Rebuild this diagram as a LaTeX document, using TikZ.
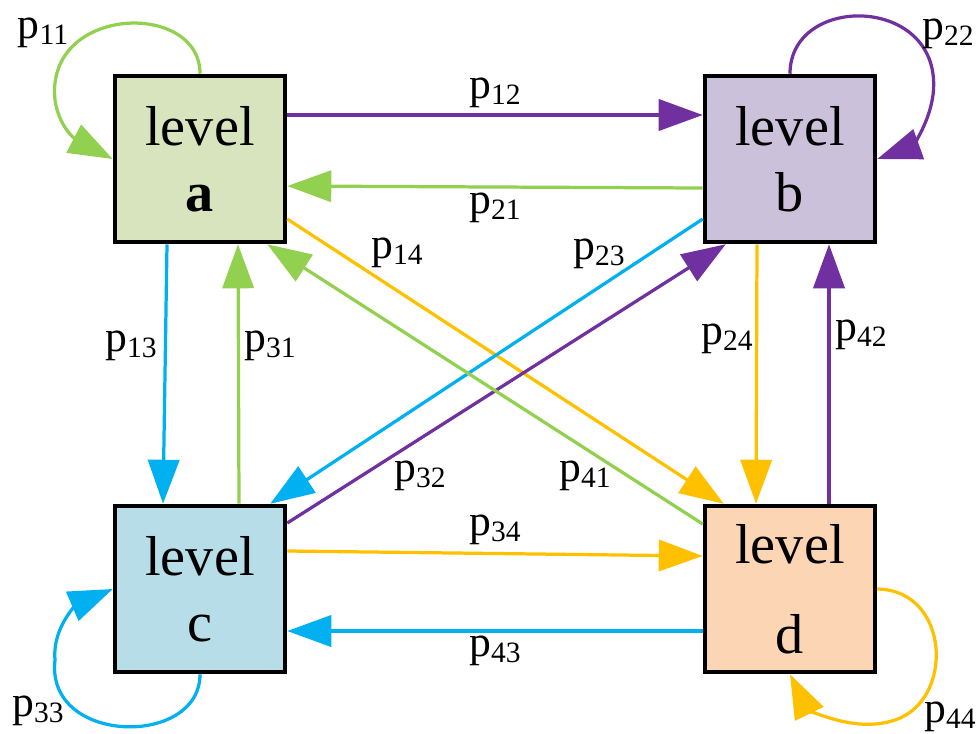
\documentclass[tikz,border=0pt]{standalone}
\usepackage{fontspec}
\setmainfont{Liberation Serif}
\usepackage{tikz}
\usetikzlibrary{arrows.meta,calc}
\definecolor{lvgreen}{HTML}{92D050}
\definecolor{lvpurple}{HTML}{7030A0}
\definecolor{lvblue}{HTML}{00B0F0}
\definecolor{lvgold}{HTML}{FFC000}
\definecolor{fillA}{HTML}{D7E4BD}
\definecolor{fillB}{HTML}{CCC1DA}
\definecolor{fillC}{HTML}{B7DEE8}
\definecolor{fillD}{HTML}{FCD5B5}
\newcommand{\plab}[1]{p\raisebox{-4.3pt}{\fontsize{21}{21}\selectfont #1}}

\begin{document}
\begin{tikzpicture}[x=0.025cm,y=-0.025cm,
  statebox/.style={draw,line width=3.2pt,minimum width=4.25cm,minimum height=4.15cm,
    align=center,inner sep=0pt,font=\fontsize{40}{47}\selectfont},
  trans/.style={line width=2.3pt,-{Triangle[length=1.1cm,width=0.78cm]}},
  plabel/.style={inner sep=0pt,font=\fontsize{31}{31}\selectfont}]
  \useasboundingbox (0,0) rectangle (980,733);
  \node[statebox,fill=fillA] (a) at (200,159) {level\\\textbf{a}};
  \node[statebox,fill=fillB] (b) at (790,159) {level\\b};
  \node[statebox,fill=fillC] (c) at (200,589) {level\\c};
  \node[statebox,fill=fillD] (d) at (790,589) {level\\[17pt]d};
  % horizontal
  \draw[trans,lvpurple] ($(a.east)+(0,-44)$) -- ($(b.west)+(0,-44)$);
  \draw[trans,lvgreen] ($(b.west)+(0,29)$) -- ($(a.east)+(0,27)$);
  \draw[trans,lvgold] ($(c.east)+(0,-38)$) -- ($(d.west)+(0,-33)$);
  \draw[trans,lvblue] ($(d.west)+(0,42)$) -- ($(c.east)+(0,42)$);
  % vertical
  \draw[trans,lvblue] ($(a.south)+(-33,0)$) -- ($(c.north)+(-37,0)$);
  \draw[trans,lvgreen] ($(c.north)+(39,0)$) -- ($(a.south)+(38,0)$);
  \draw[trans,lvgold] ($(b.south)+(-33,0)$) -- ($(d.north)+(-34,0)$);
  \draw[trans,lvpurple] ($(d.north)+(39,0)$) -- ($(b.south)+(39,0)$);
  % diagonal
  \draw[trans,lvgold] ($(a.east)+(0,60)$) -- ($(d.north west)+(21,0)$);
  \draw[trans,lvblue] ($(b.west)+(0,60)$) -- ($(c.north east)+(-17,0)$);
  \draw[trans,lvpurple] ($(c.east)+(0,-66)$) -- ($(b.south west)+(23,0)$);
  \draw[trans,lvgreen] ($(d.west)+(0,-65)$) -- ($(a.south east)+(-20,0)$);
  % loops
  \draw[trans,lvgreen] (a.north) .. controls (200,0) and (45,5) .. (55,100)
    .. controls (60,133) and (82,143) .. (a.west);
  \draw[trans,lvpurple] (b.north) .. controls (790,-8) and (945,-5) .. (933,95)
    .. controls (928,130) and (908,148) .. (b.east);
  \draw[trans,lvblue] (c.south) .. controls (200,748) and (45,745) .. (55,660)
    .. controls (52,625) and (80,603) .. (c.west);
  \draw[trans,lvgold] (d.east) .. controls (950,590) and (955,700) .. (895,720)
    .. controls (850,735) and (805,705) .. (d.south);
  % labels
  \node[plabel] (l11) at (43,33) {\plab{11}};
  \node[plabel] (l22) at (948,34) {\plab{22}};
  \node[plabel] (l33) at (38,711) {\plab{33}};
  \node[plabel] (l44) at (950,717) {\plab{44}};
  \node[plabel] (l12) at (495,93) {\plab{12}};
  \node[plabel] (l21) at (495,208) {\plab{21}};
  \node[plabel] (l34) at (495,530) {\plab{34}};
  \node[plabel] (l43) at (495,651) {\plab{43}};
  \node[plabel] (l13) at (131,346) {\plab{13}};
  \node[plabel] (l31) at (270,346) {\plab{31}};
  \node[plabel] (l24) at (727,339) {\plab{24}};
  \node[plabel] (l42) at (861,335) {\plab{42}};
  \node[plabel] (l14) at (397,253) {\plab{14}};
  \node[plabel] (l23) at (599,254) {\plab{23}};
  \node[plabel] (l32) at (420,476) {\plab{32}};
  \node[plabel] (l41) at (585,476) {\plab{41}};
\end{tikzpicture}
\end{document}
